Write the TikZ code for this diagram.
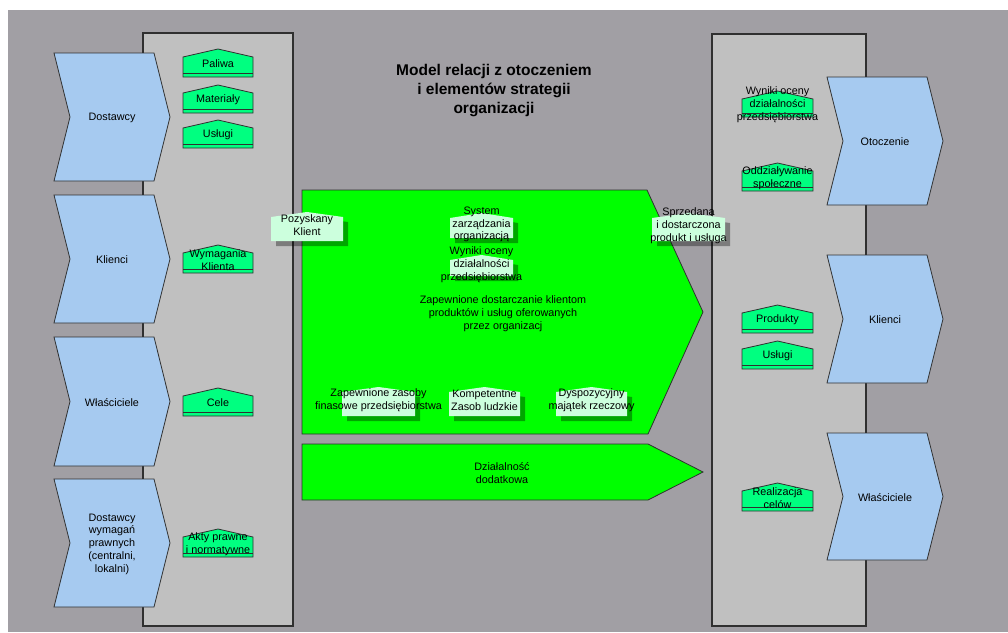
\documentclass[tikz,border=0pt]{standalone}
\usepackage{fontspec}
\setmainfont{Liberation Sans}
\definecolor{bgc}{HTML}{A19FA4}
\definecolor{panelc}{HTML}{C0C0C0}
\definecolor{chevc}{HTML}{A6CAF0}
\definecolor{bigc}{HTML}{00FF00}
\definecolor{hgc}{HTML}{00FF80}
\definecolor{lgc}{HTML}{CCFFDD}
\definecolor{edgec}{HTML}{303030}
\tikzset{
  panelbox/.style={fill=panelc,draw=edgec,line width=1.2pt},
  chevbox/.style={fill=chevc,draw=edgec,line width=0.8pt},
  bigbox/.style={fill=bigc,draw=edgec,line width=0.8pt},
  hbox/.style={fill=hgc,draw=edgec,line width=0.8pt},
  hline/.style={draw=edgec,line width=0.8pt},
  lbox/.style={fill=lgc},
  lshadow/.style={fill=black,fill opacity=0.35},
  lbl/.style={font=\fontsize{10.8}{12.8}\selectfont,align=center,inner sep=0pt,text=black},
  ttl/.style={font=\fontsize{15.5}{19}\selectfont\bfseries,align=center,inner sep=0pt}
}
\newcommand{\GHouse}[6]{%
  \draw[hbox] (#2,#5) -- (#2,#4+8) -- ({(#2+#3)/2},#4) -- (#3,#4+8) -- (#3,#5) -- cycle;
  \draw[hline] (#2,#5-4) -- (#3,#5-4);
  \node[lbl] (#1) at ({(#2+#3)/2},{(#4+#5)/2+1}) {#6};
}
\newcommand{\LHouse}[6]{%
  \fill[lshadow] (#2+5,#5+5) -- (#2+5,#4+10) -- ({(#2+#3)/2+5},#4+5) -- (#3+5,#4+10) -- (#3+5,#5+5) -- cycle;
  \fill[lbox] (#2,#5) -- (#2,#4+5) -- ({(#2+#3)/2},#4) -- (#3,#4+5) -- (#3,#5) -- cycle;
  \node[lbl] (#1) at ({(#2+#3)/2},{(#4+#5)/2-1}) {#6};
}
\newcommand{\Chev}[5]{%
  \draw[chevbox] (#2,#3) -- (#2+100,#3) -- (#2+116,{(#3+#4)/2}) -- (#2+100,#4) -- (#2,#4) -- (#2+16,{(#3+#4)/2}) -- cycle;
  \node[lbl] (#1) at (#2+58,{(#3+#4)/2+1}) {#5};
}
\begin{document}
\begin{tikzpicture}[x=1pt,y=-1pt]
\useasboundingbox (0,0) rectangle (1008,632);
\fill[white] (0,0) rectangle (1008,632);
\fill[bgc] (8,10) rectangle (1008,632);
% panels
\draw[panelbox] (143,33) rectangle (293,626);
\draw[panelbox] (712,34) rectangle (866,626);
% title
\node[ttl] (title) at (494,91) {Model relacji z otoczeniem\\i elementów strategii\\organizacji};
% left chevrons
\Chev{lc1}{54}{53}{181}{Dostawcy}
\Chev{lc2}{54}{195}{323}{Klienci}
\Chev{lc3}{54}{337}{466}{Właściciele}
\Chev{lc4}{54}{479}{607}{Dostawcy\\wymagań\\prawnych\\(centralni,\\lokalni)}
% right chevrons
\Chev{rc1}{827}{77}{205}{Otoczenie}
\Chev{rc2}{827}{255}{383}{Klienci}
\Chev{rc3}{827}{433}{560}{Właściciele}
% left houses
\GHouse{h1}{183}{253}{49}{77}{Paliwa}
\GHouse{h2}{183}{253}{85}{113}{Materiały}
\GHouse{h3}{183}{253}{120}{148}{Usługi}
\GHouse{h4}{183}{253}{245}{273}{Wymagania\\Klienta}
\GHouse{h5}{183}{253}{388}{416}{Cele}
\GHouse{h6}{183}{253}{529}{557}{Akty prawne\\i normatywne}
% right houses
\GHouse{r1}{742}{813}{91}{117}{Wyniki oceny\\działalności\\przedsiębiorstwa}
\GHouse{r2}{742}{813}{163}{191}{Oddziaływanie\\społeczne}
\GHouse{r3}{742}{813}{305}{333}{Produkty}
\GHouse{r4}{742}{813}{341}{369}{Usługi}
\GHouse{r5}{742}{813}{483}{511}{Realizacja\\celów}
% big arrows
\draw[bigbox] (302,190) -- (647,190) -- (703,312) -- (648,434) -- (302,434) -- cycle;
\draw[bigbox] (302,444) -- (648,444) -- (703,472) -- (648,500) -- (302,500) -- cycle;
\node[lbl] (main) at (503,314) {Zapewnione dostarczanie klientom\\produktów i usług oferowanych\\przez organizacj};
\node[lbl] (extra) at (502,473) {Działalność\\dodatkowa};
% light houses
\LHouse{l1}{271}{343}{212}{241}{Pozyskany\\Klient}
\LHouse{l2}{450}{513}{213}{238}{System\\zarządzania\\organizacją}
\LHouse{l3}{450}{513}{255}{276}{Wyniki oceny\\działalności\\przedsiębiorstwa}
\LHouse{l4}{652}{725}{213}{241}{Sprzedana\\i dostarczona\\produkt i usługa}
\LHouse{l5}{342}{415}{387}{416}{Zapewnione zasoby\\finasowe przedsiębiorstwa}
\LHouse{l6}{449}{520}{387}{416}{Kompetentne\\Zasob ludzkie}
\LHouse{l7}{556}{627}{387}{416}{Dyspozycyjny\\majątek rzeczowy}
\end{tikzpicture}
\end{document}
